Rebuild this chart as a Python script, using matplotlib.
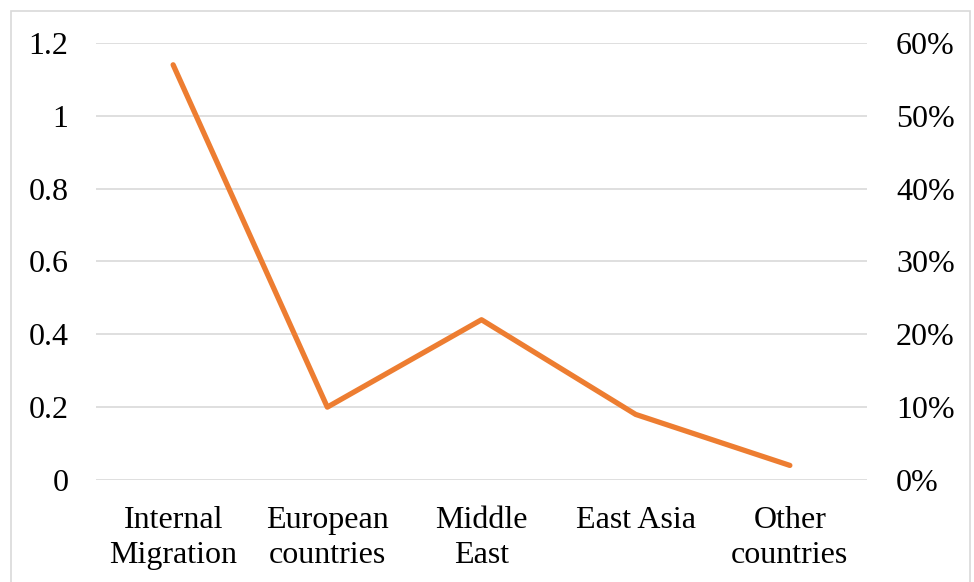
import matplotlib.pyplot as plt
from matplotlib.patches import Rectangle
from matplotlib.ticker import FuncFormatter

categories = ['Internal\nMigration', 'European\ncountries', 'Middle\nEast', 'East Asia', 'Other\ncountries']
share = [0.57, 0.10, 0.22, 0.09, 0.02]

plt.rcParams['font.family'] = ['Liberation Serif', 'DejaVu Serif']
plt.rcParams['font.size'] = 23

fig = plt.figure(figsize=(9.74, 5.82), dpi=100)
ax = fig.add_axes([0.0986, 0.1753, 0.7915, 0.7509])
ax2 = ax.twinx()

x = range(len(categories))
ax2.plot(x, share, color='#ED7D31', lw=3.8, solid_capstyle='round', solid_joinstyle='round')

ax.set_ylim(0, 1.2)
ax.set_yticks([0, 0.2, 0.4, 0.6, 0.8, 1.0, 1.2])
ax.set_yticklabels(['0', '0.2', '0.4', '0.6', '0.8', '1', '1.2'])
ax2.set_ylim(0, 0.6)
ax2.set_yticks([0, 0.1, 0.2, 0.3, 0.4, 0.5, 0.6])
ax2.yaxis.set_major_formatter(FuncFormatter(lambda v, p: '%d%%' % round(v * 100)))

ax.set_xlim(-0.5, len(categories) - 0.5)
ax.set_xticks(list(x))
ax.set_xticklabels(categories, linespacing=1.3)

ax.grid(axis='y', color='#d9d9d9', lw=1.2)
ax.set_axisbelow(True)
for a in (ax, ax2):
    for s in a.spines.values():
        s.set_visible(False)
    a.tick_params(length=0)
ax.tick_params(axis='y', pad=20)
ax.tick_params(axis='x', pad=18.5)
ax2.tick_params(axis='y', pad=21)

fig.patches.append(Rectangle((11 / 974, -0.05), 959 / 974, 1 - 11 / 582 + 0.05,
                             transform=fig.transFigure, fill=False,
                             edgecolor='#d9d9d9', lw=1.2))

plt.savefig('out.png', dpi=100)
